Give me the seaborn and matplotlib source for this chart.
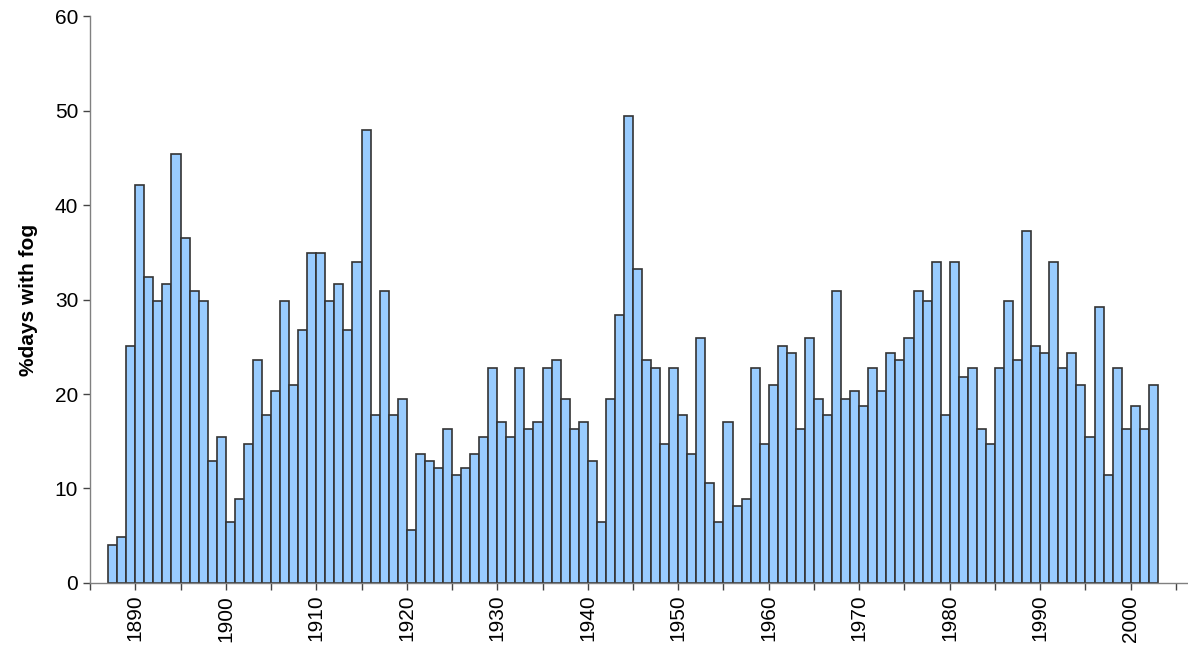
import numpy as np
import pandas as pd
import seaborn as sns
import matplotlib.pyplot as plt

# yearly share of days with fog, 1887-2002
years = list(range(1887, 2003))
fog_pct = [
    4.0, 4.9, 25.1,
    42.1, 32.4, 29.9, 31.7, 45.4, 36.5, 30.9, 29.9, 12.9, 15.4,
    6.5, 8.9, 14.7, 23.6, 17.8, 20.3, 29.9, 21.0, 26.8, 34.9,
    34.9, 29.9, 31.7, 26.8, 34.0, 47.9, 17.8, 30.9, 17.8, 19.5,
    5.6, 13.7, 12.9, 12.2, 16.3, 11.4, 12.2, 13.7, 15.4, 22.8,
    17.0, 15.4, 22.8, 16.3, 17.0, 22.8, 23.6, 19.5, 16.3, 17.0,
    12.9, 6.5, 19.5, 28.4, 49.4, 33.2, 23.6, 22.8, 14.7, 22.8,
    17.8, 13.7, 25.9, 10.6, 6.5, 17.0, 8.1, 8.9, 22.8, 14.7,
    21.0, 25.1, 24.3, 16.3, 25.9, 19.5, 17.8, 30.9, 19.5, 20.3,
    18.7, 22.8, 20.3, 24.3, 23.6, 25.9, 30.9, 29.9, 34.0, 17.8,
    34.0, 21.8, 22.8, 16.3, 14.7, 22.8, 29.9, 23.6, 37.3, 25.1,
    24.3, 34.0, 22.8, 24.3, 21.0, 15.4, 29.2, 11.4, 22.8, 16.3,
    18.7, 16.3, 21.0,
]
y_ticks = [0, 10, 20, 30, 40, 50, 60]
decade_labels = list(range(1890, 2010, 10))

df = pd.DataFrame({"year": years, "fog": fog_pct})

sns.set_style("white")
plt.rcParams["font.family"] = ["Liberation Sans", "DejaVu Sans"]

fig = plt.figure(figsize=(11.88, 6.47), dpi=100)
ax = fig.add_axes([0.0758, 0.099, 0.9232, 0.876])

# each bar spans [year, year + 1]
ax.bar(df["year"], df["fog"], width=1.0, align="edge",
       color="#99CCFF", edgecolor="#333333", linewidth=1.2)

ax.set_xlim(1885, 2006.2)
ax.set_ylim(0, 60)
ax.set_yticks(y_ticks)
x_ticks = np.arange(1885, 2010, 5)
ax.set_xticks(x_ticks)
ax.set_xticklabels([str(t) if t in decade_labels else "" for t in x_ticks],
                   rotation=90)

ax.tick_params(axis="both", which="major", labelsize=15, length=5,
               width=1, color="#444444", labelcolor="black",
               direction="out", bottom=True, left=True)
ax.set_ylabel("%days with fog", fontsize=15, fontweight="bold",
              color="black", labelpad=12)

sns.despine(ax=ax)
for side in ["left", "bottom"]:
    ax.spines[side].set_color("#808080")
    ax.spines[side].set_linewidth(1)

fig.savefig("out.png", dpi=100)
